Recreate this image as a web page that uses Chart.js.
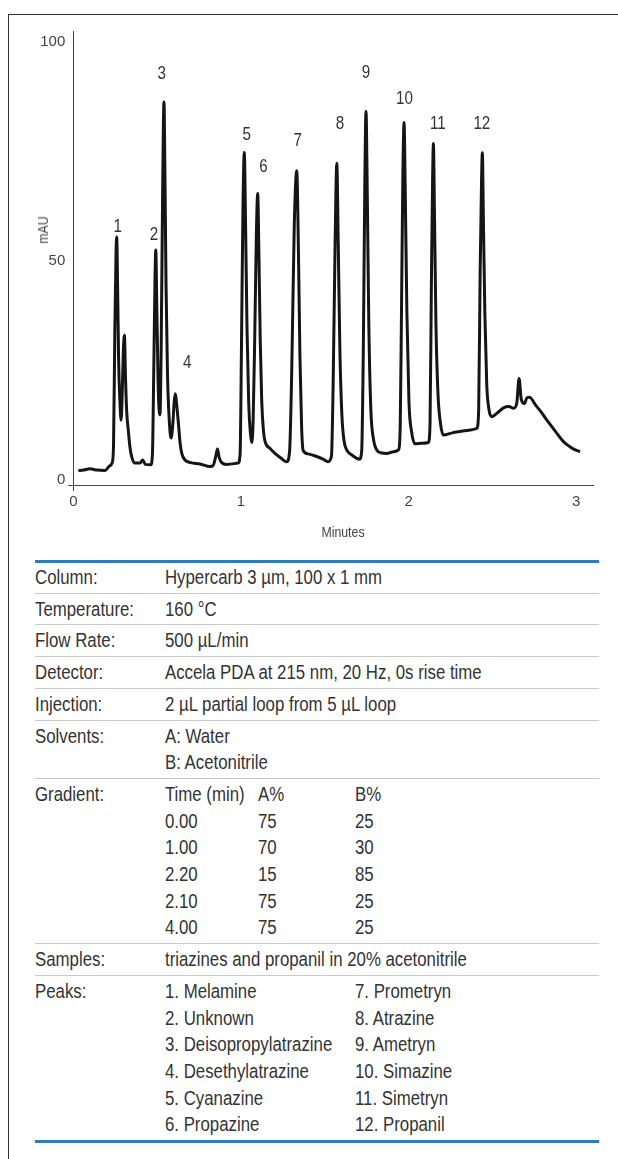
<!DOCTYPE html>
<html><head><meta charset="utf-8">
<script src="https://cdn.jsdelivr.net/npm/chart.js@4.4.1/dist/chart.umd.min.js"></script>
<style>
html,body{margin:0;padding:0;background:#fff;}
body{width:618px;height:1159px;position:relative;overflow:hidden;font-family:'Liberation Sans',Arial,sans-serif;color:#333;}
#frame{position:absolute;left:8px;top:14px;width:620px;height:1160px;border-top:1px solid #333;border-left:1px solid #333;}
#chartBox{position:absolute;left:0;top:0;width:618px;height:550px;}
.axt{position:absolute;font-size:15px;color:#444;white-space:nowrap;line-height:18px;}
#ytitle{left:43px;top:230px;transform:translate(-50%,-50%) rotate(-90deg) scaleX(0.82);}
#xtitle{left:342.5px;top:531.7px;transform:translate(-50%,-50%) scaleX(0.82);}
#info{position:absolute;left:35px;top:560px;width:687.8px;transform:scaleX(0.82);transform-origin:0 0;border-top:3px solid #2d7dc0;border-bottom:3px solid #2d7dc0;font-size:20.5px;line-height:26.7px;white-space:nowrap;}
.row{position:relative;padding:2px 0 2px 158.5px;border-bottom:1px solid #c8c8c8;}
.row:first-child{padding-top:1px;}
.row:last-child{border-bottom:none;}
.lab{position:absolute;left:0;top:2px;}
.row:first-child .lab{top:1px;}
.g3{display:grid;grid-template-columns:113.4px 118.3px auto;}
.g2{display:grid;grid-template-columns:231.7px auto;}
</style>
</head>
<body>
<div id="frame"></div>
<div id="chartBox"><canvas id="c"></canvas></div>
<div class="axt" id="ytitle">mAU</div>
<div class="axt" id="xtitle">Minutes</div>
<div id="info">
  <div class="row"><span class="lab">Column:</span>Hypercarb 3 µm, 100 x 1 mm</div>
  <div class="row"><span class="lab">Temperature:</span>160 °C</div>
  <div class="row"><span class="lab">Flow Rate:</span>500 µL/min</div>
  <div class="row"><span class="lab">Detector:</span>Accela PDA at 215 nm, 20 Hz, 0s rise time</div>
  <div class="row"><span class="lab">Injection:</span>2 µL partial loop from 5 µL loop</div>
  <div class="row"><span class="lab">Solvents:</span>A: Water<br>B: Acetonitrile</div>
  <div class="row"><span class="lab">Gradient:</span>
    <div class="g3">
      <span>Time (min)</span><span>A%</span><span>B%</span>
      <span>0.00</span><span>75</span><span>25</span>
      <span>1.00</span><span>70</span><span>30</span>
      <span>2.20</span><span>15</span><span>85</span>
      <span>2.10</span><span>75</span><span>25</span>
      <span>4.00</span><span>75</span><span>25</span>
    </div>
  </div>
  <div class="row"><span class="lab">Samples:</span>triazines and propanil in 20% acetonitrile</div>
  <div class="row"><span class="lab">Peaks:</span>
    <div class="g2">
      <span>1. Melamine</span><span>7. Prometryn</span>
      <span>2. Unknown</span><span>8. Atrazine</span>
      <span>3. Deisopropylatrazine</span><span>9. Ametryn</span>
      <span>4. Desethylatrazine</span><span>10. Simazine</span>
      <span>5. Cyanazine</span><span>11. Simetryn</span>
      <span>6. Propazine</span><span>12. Propanil</span>
    </div>
  </div>
</div>
<script>
// Retention time (minutes) and detector signal (mAU)
const retentionTime = [
  0.03,0.06,0.10,0.14,0.19,0.215,0.232,0.240,0.248,0.255,0.259,0.264,0.270,0.278,0.285,0.292,0.298,0.305,0.311,0.318,
  0.328,0.338,0.348,0.368,0.398,0.414,0.430,0.462,0.472,0.480,0.487,0.492,0.498,0.506,0.512,0.517,0.524,0.532,0.537,0.541,
  0.546,0.553,0.562,0.572,0.583,0.594,0.602,0.609,0.616,0.627,0.637,0.647,0.666,0.70,0.756,0.816,0.835,0.850,0.860,0.870,
  0.885,0.915,0.983,0.995,1.003,1.012,1.020,1.027,1.036,1.046,1.057,1.065,1.073,1.082,1.092,1.100,1.107,1.115,1.124,1.135,
  1.144,1.175,1.203,1.24,1.273,1.290,1.303,1.318,1.333,1.343,1.352,1.362,1.371,1.40,1.452,1.49,1.520,1.540,1.550,1.562,
  1.572,1.580,1.590,1.602,1.615,1.631,1.66,1.707,1.720,1.730,1.739,1.746,1.754,1.763,1.775,1.790,1.810,1.840,1.870,1.910,
  1.939,1.950,1.958,1.966,1.973,1.980,1.990,2.002,2.018,2.039,2.080,2.118,2.128,2.136,2.143,2.148,2.154,2.163,2.175,2.190,
  2.208,2.26,2.307,2.36,2.407,2.418,2.427,2.435,2.440,2.446,2.455,2.466,2.480,2.496,2.528,2.566,2.600,2.626,2.645,2.659,
  2.672,2.691,2.706,2.721,2.76,2.79,2.825,2.875,2.924,2.960,2.994,3.023
];
const absorbance = [
  2.2,2.3,2.6,2.3,2.2,3.2,4.0,8,35,52,55.5,45,28,18,13.7,20,29,33.1,24,16,
  11.4,7.5,5.4,3.9,3.9,4.6,3.6,3.5,6,25,45,52.5,40,22,16,14.9,30,62,80,86.3,
  72,45,24,14,9.6,13,18,19.7,17.5,13,8.5,6.1,4.6,4.0,3.7,3.1,3.4,5.5,7.1,5.2,
  4.0,3.6,3.9,6,30,62,74.8,60,35,18,10.5,8.6,14,32,56,65.4,52,32,18,11,
  8.8,7.2,6.1,5.0,4.2,6.5,25,58,70.6,52,28,12,6.8,6.0,5.4,4.8,4.2,5.5,22,55,
  72.3,55,30,15,9,6.9,5.8,4.8,6.5,30,68,84.2,64,35,16,9.5,6.9,6.2,6.1,6.5,
  6.9,12,40,70,81.6,66,38,18,11,8.3,8.4,8.6,13,45,68,76.8,62,36,20,13,
  10.3,10.8,11.1,11.4,11.8,16,48,68,74.7,60,38,22,16,14.5,15.3,16.5,16.8,16.4,17.5,23.2,
  18.5,17.5,18.8,18.9,17.0,15.6,13.7,11.2,8.8,7.7,6.9,6.5
];
const xTicks = [0, 1, 2, 3];
const yTicks = [0, 50, 100];
const peakNames = ['1','2','3','4','5','6','7','8','9','10','11','12'];
const peakLabelTime = [0.265,0.481,0.527,0.680,1.035,1.134,1.339,1.591,1.746,1.975,2.174,2.437];
const peakLabelMAU = [57.8,55.9,92.8,26.8,78.7,71.5,77.5,81.2,92.9,87.1,81.2,81.2];

const FONT = "'Liberation Sans',Arial,sans-serif";
const points = retentionTime.map((t, i) => ({x: t, y: absorbance[i]}));

const axisExt = {
  id: 'axisExt',
  afterDraw(chart) {
    const {ctx, chartArea: a} = chart;
    ctx.save();
    ctx.strokeStyle = '#444'; ctx.lineWidth = 1;
    ctx.beginPath();
    ctx.moveTo(a.left - 5, Math.round(a.bottom) + 0.5); ctx.lineTo(a.left, Math.round(a.bottom) + 0.5);
    ctx.moveTo(Math.round(a.left) + 0.5, a.bottom); ctx.lineTo(Math.round(a.left) + 0.5, a.bottom + 6);
    ctx.stroke();
    ctx.restore();
  }
};
const peakLabels = {
  id: 'peakLabels',
  afterDatasetsDraw(chart) {
    const {ctx, scales: {x, y}} = chart;
    ctx.save();
    ctx.font = '18.5px ' + FONT;
    ctx.fillStyle = '#333';
    ctx.textAlign = 'center';
    ctx.textBaseline = 'middle';
    peakNames.forEach((n, i) => {
      ctx.save();
      ctx.translate(x.getPixelForValue(peakLabelTime[i]), y.getPixelForValue(peakLabelMAU[i]));
      ctx.scale(0.82, 1);
      ctx.fillText(n, 0, 0);
      ctx.restore();
    });
    ctx.restore();
  }
};

new Chart(document.getElementById('c'), {
  type: 'line',
  data: {datasets: [{
    label: 'Chromatogram', data: points, borderColor: '#151515', borderWidth: 3,
    pointRadius: 0, cubicInterpolationMode: 'monotone', fill: false, borderJoinStyle: 'round'
  }]},
  options: {
    responsive: true, maintainAspectRatio: false, animation: false, devicePixelRatio: 1,
    layout: {padding: {left: 0, top: 31, right: 25, bottom: 0}},
    plugins: {legend: {display: false}, tooltip: {enabled: false}},
    scales: {
      x: {
        type: 'linear', min: 0, max: 3.1,
        afterBuildTicks(s) { s.ticks = xTicks.map(v => ({value: v})); },
        afterFit(s) { s.height = 65; },
        grid: {display: false, drawTicks: false},
        border: {display: true, color: '#444', width: 1},
        ticks: {padding: 8, color: '#444', font: {family: FONT, size: 15}, maxRotation: 0, autoSkip: false}
      },
      y: {
        type: 'linear', min: -1.1, max: 102.5,
        afterBuildTicks(s) { s.ticks = yTicks.map(v => ({value: v})); },
        afterFit(s) { s.width = 73.3; },
        grid: {display: false, drawTicks: false},
        border: {display: true, color: '#444', width: 1},
        ticks: {padding: 8, color: '#444', font: {family: FONT, size: 15}}
      }
    }
  },
  plugins: [axisExt, peakLabels]
});
</script>
</body></html>
